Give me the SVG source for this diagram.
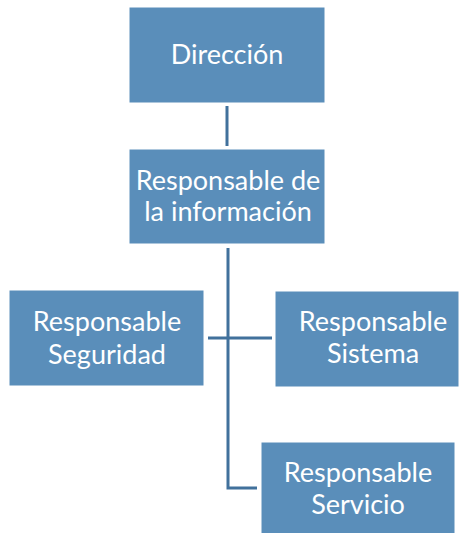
<svg xmlns="http://www.w3.org/2000/svg" width="461" height="533" viewBox="0 0 461 533">
<style>
.box{fill:#5A8EBA;stroke:#fff;stroke-width:1}
.t{font-family:Lato,"Noto Sans",sans-serif;font-size:27px;fill:#fff;text-anchor:middle}
.c{fill:none;stroke:#41719C;stroke-width:3}
</style>
<rect width="461" height="533" fill="#fff"/>
<g id="connectors">
<line class="c" x1="227" y1="106" x2="227" y2="146"/>
<line class="c" x1="208" y1="338" x2="272" y2="338"/>
<polyline class="c" points="228,248 228,488 257,488"/>
</g>
<g id="direccion">
<rect class="box" x="129" y="7" width="196" height="96"/>
<text class="t" x="227" y="64">Dirección</text>
</g>
<g id="info">
<rect class="box" x="129" y="149" width="196" height="95"/>
<text class="t" x="228" y="190">Responsable de</text>
<text class="t" x="228" y="221">la información</text>
</g>
<g id="seguridad">
<rect class="box" x="9" y="290" width="195" height="96"/>
<text class="t" x="107" y="331">Responsable</text>
<text class="t" x="107" y="364">Seguridad</text>
</g>
<g id="sistema">
<rect class="box" x="275" y="291" width="184" height="96"/>
<text class="t" x="373" y="331">Responsable</text>
<text class="t" x="373" y="363">Sistema</text>
</g>
<g id="servicio">
<rect class="box" x="261" y="442" width="194" height="95"/>
<text class="t" x="358" y="482">Responsable</text>
<text class="t" x="358" y="514">Servicio</text>
</g>
</svg>
